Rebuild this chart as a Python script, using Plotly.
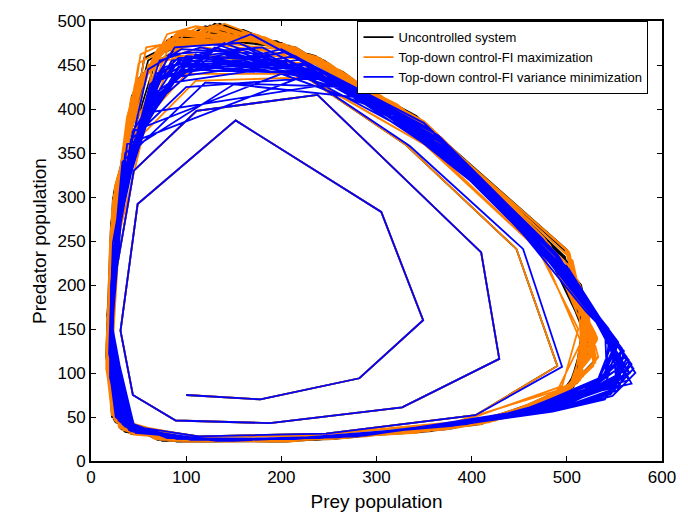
import plotly.graph_objects as go

# Opening transient, shared by every run (prey, predator) per time step
transient_prey = [100, 178, 282, 349, 305, 152, 49, 31, 44, 89, 188, 327, 429, 410, 238, 111, 45, 24, 22, 40, 113, 247, 404]
transient_pred = [75, 70, 94, 160, 283, 387, 292, 148, 75, 46, 43, 61, 116, 237, 416, 398, 330, 200, 95, 40, 28, 31, 52]

# Uncontrolled system after the transient
uncontrolled_path = [
    (490, 108), (447, 241), (330, 360), (200, 455), (90, 460), (42, 380), (22, 250), (18, 125),
    (22, 50), (70, 24), (190, 22), (350, 33), (485, 66), (522, 115), (500, 240), (385, 350), (245, 455), (130, 497), (55, 440), (24, 300), (17, 150),
    (30, 38), (100, 22), (230, 24), (390, 39), (500, 78), (520, 140), (480, 250), (360, 375), (215, 470), (95, 488), (48, 432), (22, 280), (17, 130),
    (25, 45), (80, 23), (205, 22), (365, 35), (490, 70), (524, 120), (502, 235), (380, 355), (240, 458), (140, 496), (62, 450), (25, 310), (17, 155),
    (35, 34), (115, 22), (250, 25), (405, 41), (505, 82), (518, 150), (470, 258), (345, 388), (200, 475), (85, 482), (45, 420), (21, 270), (16, 120),
    (24, 47), (75, 23), (198, 22), (358, 34), (488, 68), (523, 118), (501, 238), (383, 352), (242, 456), (135, 497), (58, 445), (24, 305), (17, 152),
    (32, 36), (105, 22), (238, 24), (395, 40), (502, 80), (519, 145), (476, 253), (352, 382), (208, 472), (90, 485), (47, 428), (22, 276), (17, 126),
    (26, 44), (85, 23), (212, 23), (372, 36), (493, 72), (522, 125), (498, 232), (377, 358), (236, 460), (125, 495), (55, 438), (23, 298), (17, 148),
    (36, 33), (118, 22), (255, 25), (410, 42), (507, 84), (517, 155), (468, 260), (342, 392), (195, 477), (80, 478), (43, 415), (21, 265), (16, 118),
    (28, 44), (90, 22), (220, 24), (380, 37), (497, 75), (528, 128), (505, 222), (392, 340), (252, 450), (148, 492), (70, 462), (52, 432), (28, 320), (17, 165),
    (38, 34), (120, 22), (255, 25), (412, 43), (507, 85), (522, 152), (482, 240), (362, 368), (228, 462), (120, 494), (60, 455), (48, 405), (24, 290), (17, 140),
    (24, 48), (76, 23), (196, 22), (356, 34), (487, 67), (530, 115), (515, 200), (402, 332), (265, 442), (160, 490), (90, 482), (68, 455), (32, 330), (18, 170),
    (42, 31), (130, 22), (266, 26), (420, 45), (511, 89), (520, 160), (470, 255), (345, 385), (205, 470), (100, 482), (56, 458), (50, 420), (25, 295), (17, 138),
]

# Top-down control, FI maximization, after the transient
fi_max_path = [
    (490, 108), (447, 241), (330, 360), (200, 455), (90, 460), (42, 380), (22, 250), (18, 125),
    (24, 48), (75, 24), (195, 22), (355, 34), (487, 67), (524, 117), (503, 236), (382, 352), (243, 456), (132, 496), (57, 442), (24, 302), (17, 152),
    (31, 37), (102, 22), (233, 24), (392, 39), (501, 79), (521, 142), (478, 251), (357, 378), (212, 471), (92, 487), (47, 430), (22, 278), (17, 128),
    (38, 42), (110, 28), (240, 30), (390, 45), (495, 85), (512, 150), (470, 240), (350, 360), (220, 440), (100, 440), (50, 380), (28, 270), (22, 140),
    (40, 32), (128, 22), (262, 26), (418, 44), (510, 88), (520, 165), (462, 265), (334, 395), (190, 478), (78, 476), (42, 412), (21, 262), (16, 115),
    (26, 45), (82, 23), (208, 22), (368, 36), (491, 70), (526, 122), (500, 240), (378, 356), (238, 459), (125, 494), (55, 436), (23, 296), (17, 146),
    (34, 35), (112, 22), (246, 25), (402, 41), (504, 82), (528, 148), (474, 256), (350, 386), (203, 474), (88, 484), (46, 424), (22, 272), (16, 124),
    (33, 46), (95, 27), (220, 28), (375, 42), (490, 80), (515, 135), (475, 235), (358, 355), (228, 436), (110, 432), (55, 372), (30, 260), (23, 135),
    (45, 30), (138, 22), (275, 27), (428, 47), (514, 92), (525, 172), (458, 270), (328, 400), (182, 482), (72, 470), (40, 400), (20, 250), (16, 110),
    (22, 52), (68, 25), (182, 22), (342, 32), (480, 63), (530, 112), (506, 228), (388, 346), (250, 452), (140, 497), (62, 448), (25, 312), (17, 158),
    (29, 40), (96, 22), (226, 24), (386, 38), (498, 76), (532, 138), (482, 246), (362, 372), (218, 468), (98, 490), (50, 432), (22, 284), (17, 132),
    (37, 34), (120, 22), (254, 25), (410, 42), (507, 85), (518, 160), (466, 262), (338, 392), (194, 476), (82, 480), (44, 418), (21, 266), (16, 118),
    (50, 30), (150, 22), (290, 28), (438, 50), (517, 96), (512, 185), (452, 275), (322, 405), (176, 484), (68, 465), (38, 392), (20, 242), (16, 105),
    (25, 46), (78, 24), (200, 22), (362, 35), (489, 69), (527, 120), (502, 238), (380, 354), (240, 458), (128, 495), (56, 440), (24, 300), (17, 150),
    (35, 40), (105, 23), (236, 25), (396, 40), (502, 80), (529, 130), (508, 215), (395, 340), (255, 448), (150, 488), (75, 470), (60, 420), (30, 310), (18, 160),
    (28, 46), (88, 23), (214, 23), (374, 36), (494, 72), (533, 118), (512, 205), (400, 335), (262, 444), (160, 485), (85, 478), (70, 440), (32, 330), (19, 170),
    (33, 36), (108, 22), (240, 25), (398, 40), (503, 80), (530, 145), (476, 254), (354, 382), (206, 472), (90, 486), (46, 428), (22, 275), (16, 126),
    (40, 33), (122, 22), (258, 26), (414, 43), (508, 86), (524, 150), (490, 228), (370, 365), (228, 462), (112, 492), (52, 462), (45, 410), (24, 290), (17, 140),
    (42, 31), (132, 22), (268, 26), (422, 46), (512, 90), (522, 168), (460, 268), (330, 398), (186, 480), (75, 472), (41, 405), (21, 256), (16, 112),
    (31, 40), (98, 23), (228, 24), (388, 39), (499, 77), (531, 136), (485, 240), (368, 368), (232, 455), (118, 470), (65, 455), (58, 400), (28, 300), (18, 150),
    (27, 44), (86, 23), (212, 23), (372, 36), (493, 72), (528, 126), (498, 242), (375, 358), (234, 460), (120, 492), (53, 434), (23, 292), (17, 142),
    (44, 31), (135, 22), (270, 27), (425, 46), (513, 91), (520, 162), (470, 250), (345, 380), (208, 462), (100, 478), (58, 470), (50, 420), (26, 300), (17, 140),
    (26, 47), (80, 24), (202, 22), (364, 35), (490, 69), (528, 108), (522, 180), (440, 290), (305, 415), (172, 485), (110, 494), (80, 485), (42, 400), (20, 240), (16, 110),
    (48, 30), (145, 22), (282, 28), (432, 48), (515, 94), (516, 178), (455, 272), (325, 402), (180, 482), (70, 468), (39, 396), (20, 246), (16, 108),
    (37, 35), (115, 22), (250, 25), (406, 42), (506, 84), (525, 150), (480, 245), (358, 370), (220, 452), (105, 462), (60, 450), (50, 395), (27, 290), (18, 145),
    (30, 42), (93, 23), (222, 24), (383, 38), (497, 75), (530, 128), (504, 220), (390, 342), (252, 446), (145, 478), (90, 470), (75, 430), (35, 330), (19, 165),
    (42, 32), (128, 22), (264, 26), (420, 45), (511, 89), (522, 158), (474, 250), (350, 378), (212, 466), (96, 480), (50, 452), (42, 400), (23, 280), (16, 130),
    (24, 50), (72, 24), (188, 22), (348, 33), (483, 65), (531, 115), (514, 200), (405, 328), (268, 440), (165, 480), (100, 488), (82, 462), (40, 360), (19, 190),
    (30, 38), (100, 22), (230, 24), (390, 39), (500, 78), (532, 140), (480, 248), (360, 374), (215, 470), (95, 488), (48, 430), (22, 280), (17, 130),
]

# Top-down control, FI variance minimization, after the transient
fi_var_path = [
    (495, 107), (454, 241), (335, 358), (205, 452), (92, 455), (44, 375), (23, 248), (19, 122),
    (35, 40), (110, 24), (250, 27), (410, 45), (515, 75), (555, 115), (500, 215), (380, 350), (240, 440), (95, 445), (48, 370), (27, 250), (21, 120),
    (34, 41), (105, 24), (245, 27), (405, 44), (495, 60), (545, 78), (568, 110), (540, 150), (470, 245), (350, 370), (215, 450), (90, 452), (62, 420), (32, 300), (21, 150),
    (35, 40), (110, 24), (250, 27), (410, 45), (505, 68), (552, 90), (548, 140), (485, 225), (360, 360), (225, 438), (38, 360), (22, 220), (20, 100),
    (28, 48), (85, 26), (215, 25), (380, 40), (505, 70), (562, 95), (515, 190), (400, 330), (260, 430), (120, 455), (60, 400), (30, 280), (22, 140),
    (41, 35), (128, 24), (268, 28), (428, 49), (505, 68), (552, 86), (560, 125), (520, 170), (430, 290), (310, 400), (180, 470), (82, 462), (58, 405), (30, 280), (21, 130),
    (40, 35), (130, 24), (270, 28), (430, 50), (530, 85), (548, 135), (490, 235), (365, 370), (225, 452), (85, 430), (40, 350), (25, 230), (20, 110),
    (42, 35), (132, 23), (275, 28), (435, 51), (520, 78), (560, 110), (512, 195), (400, 330), (270, 425), (120, 430), (33, 340), (21, 200), (20, 95),
    (30, 45), (92, 25), (226, 26), (390, 42), (490, 58), (548, 74), (572, 100), (548, 140), (480, 230), (365, 360), (230, 440), (110, 448), (65, 430), (35, 320), (22, 160),
    (30, 45), (95, 25), (230, 26), (395, 42), (520, 78), (566, 100), (510, 200), (390, 340), (250, 435), (105, 460), (55, 390), (28, 265), (21, 130),
    (30, 45), (94, 25), (228, 26), (392, 42), (500, 64), (555, 92), (540, 150), (470, 250), (340, 385), (200, 440), (45, 375), (24, 240), (20, 110),
    (38, 38), (120, 24), (258, 27), (418, 47), (500, 64), (542, 92), (554, 135), (505, 205), (400, 325), (265, 422), (140, 462), (78, 448), (55, 395), (29, 270), (20, 125),
    (45, 33), (140, 23), (285, 29), (445, 54), (540, 95), (545, 145), (480, 245), (355, 378), (205, 465), (75, 438), (38, 340), (24, 220), (20, 105),
    (45, 33), (142, 23), (288, 29), (448, 55), (512, 72), (555, 95), (550, 140), (495, 215), (380, 345), (245, 440), (115, 470), (72, 455), (50, 380), (27, 250), (20, 115),
    (38, 38), (118, 24), (258, 27), (418, 47), (510, 72), (565, 100), (525, 170), (420, 305), (290, 412), (150, 428), (36, 350), (22, 210), (20, 100),
    (26, 50), (80, 26), (205, 25), (370, 39), (500, 66), (558, 108), (520, 182), (405, 322), (270, 425), (130, 470), (65, 410), (32, 290), (22, 150),
    (28, 48), (86, 26), (212, 25), (378, 40), (485, 56), (540, 70), (565, 115), (530, 160), (455, 262), (335, 385), (195, 462), (95, 468), (60, 445), (34, 320), (22, 155),
    (38, 38), (120, 24), (260, 27), (420, 47), (525, 80), (560, 120), (505, 210), (385, 345), (280, 420), (168, 485), (98, 455), (50, 380), (27, 255), (21, 125),
    (45, 33), (140, 23), (285, 29), (445, 54), (530, 85), (550, 130), (495, 220), (375, 355), (240, 436), (100, 425), (42, 365), (23, 230), (20, 105),
    (36, 40), (112, 24), (252, 27), (412, 45), (498, 62), (550, 82), (563, 118), (515, 185), (415, 310), (285, 415), (155, 475), (88, 470), (68, 435), (36, 330), (22, 150),
    (33, 42), (100, 25), (240, 26), (400, 43), (512, 74), (568, 88), (525, 175), (410, 318), (275, 420), (140, 475), (70, 420), (33, 300), (22, 155),
    (43, 34), (136, 23), (280, 28), (440, 52), (510, 70), (558, 90), (546, 138), (485, 222), (372, 352), (238, 445), (108, 458), (70, 432), (46, 355), (26, 240), (20, 112),
    (27, 49), (84, 26), (214, 25), (380, 40), (505, 70), (560, 102), (515, 188), (405, 322), (260, 430), (55, 395), (28, 280), (21, 140),
    (42, 34), (135, 23), (278, 28), (438, 52), (535, 90), (552, 128), (495, 225), (372, 360), (215, 460), (88, 440), (42, 355), (25, 235), (20, 112),
    (31, 44), (96, 25), (232, 26), (396, 43), (493, 60), (546, 76), (570, 105), (544, 145), (462, 258), (342, 380), (206, 455), (100, 460), (64, 425), (33, 305), (21, 145),
    (29, 46), (90, 25), (222, 26), (388, 41), (510, 72), (563, 104), (512, 195), (395, 335), (255, 432), (110, 462), (57, 395), (29, 270), (21, 135),
    (39, 37), (124, 24), (262, 28), (422, 48), (503, 66), (549, 88), (558, 128), (510, 195), (420, 300), (295, 408), (165, 468), (85, 455), (56, 400), (30, 280), (21, 130),
    (47, 32), (150, 23), (292, 30), (452, 56), (542, 98), (540, 155), (475, 252), (350, 384), (200, 468), (72, 435), (36, 335), (23, 215), (20, 100),
    (33, 43), (100, 25), (238, 26), (400, 43), (496, 62), (553, 80), (566, 112), (528, 168), (442, 278), (322, 392), (188, 460), (92, 458), (62, 428), (34, 312), (22, 148),
    (27, 49), (82, 26), (210, 25), (375, 40), (503, 68), (556, 112), (518, 186), (402, 326), (265, 428), (125, 468), (62, 405), (31, 285), (22, 145),
    (47, 32), (148, 23), (295, 30), (455, 57), (515, 74), (556, 98), (544, 150), (478, 240), (360, 362), (225, 450), (102, 455), (68, 440), (48, 370), (26, 245), (20, 110),
    (36, 39), (115, 24), (255, 27), (415, 46), (522, 79), (561, 118), (507, 205), (388, 342), (238, 445), (100, 450), (52, 375), (28, 258), (21, 128),
    (44, 34), (138, 23), (282, 29), (442, 53), (538, 93), (550, 132), (492, 230), (368, 365), (220, 456), (86, 436), (41, 350), (25, 228), (20, 108),
    (31, 44), (98, 25), (235, 26), (398, 43), (514, 75), (565, 92), (522, 178), (408, 320), (272, 422), (136, 472), (68, 415), (32, 295), (22, 152),
    (39, 37), (125, 24), (265, 28), (425, 48), (528, 83), (557, 125), (502, 218), (378, 355), (230, 450), (92, 448), (46, 365), (26, 245), (20, 118),
]

series = [
    ("Uncontrolled system", uncontrolled_path, "#000000"),
    ("Top-down control-FI maximization", fi_max_path, "#ff8000"),
    ("Top-down control-FI variance minimization", fi_var_path, "#0000ff"),
]

FONT = "Liberation Sans, Arial, Helvetica, sans-serif"

fig = go.Figure()
for name, path, color in series:
    prey = transient_prey + [p[0] for p in path]
    pred = transient_pred + [p[1] for p in path]
    fig.add_trace(go.Scatter(
        x=prey, y=pred, mode="lines", name=name,
        line=dict(color=color, width=1.8),
    ))

axis_common = dict(
    showgrid=False, zeroline=False, showline=True, linecolor="black", linewidth=1.6,
    mirror="ticks", ticks="inside", ticklen=5, tickwidth=1, tickcolor="black",
    tickfont=dict(family=FONT, size=17, color="black"),
)

fig.update_layout(
    width=688, height=521,
    margin=dict(l=91, r=21, t=15, b=59),
    paper_bgcolor="white", plot_bgcolor="white",
    font=dict(family=FONT, color="black"),
    xaxis=dict(range=[0, 600], dtick=100,
               title=dict(text="Prey population", font=dict(family=FONT, size=19), standoff=8),
               **axis_common),
    yaxis=dict(range=[0, 500], dtick=50,
               title=dict(text="Predator population", font=dict(family=FONT, size=19), standoff=6),
               **axis_common),
    legend=dict(
        x=0.976, y=1.0, xanchor="right", yanchor="top",
        bgcolor="white", bordercolor="black", borderwidth=1.2,
        font=dict(family=FONT, size=13, color="black"),
        tracegroupgap=0, itemwidth=30,
    ),
    showlegend=True,
)

fig.write_html("out.html")
